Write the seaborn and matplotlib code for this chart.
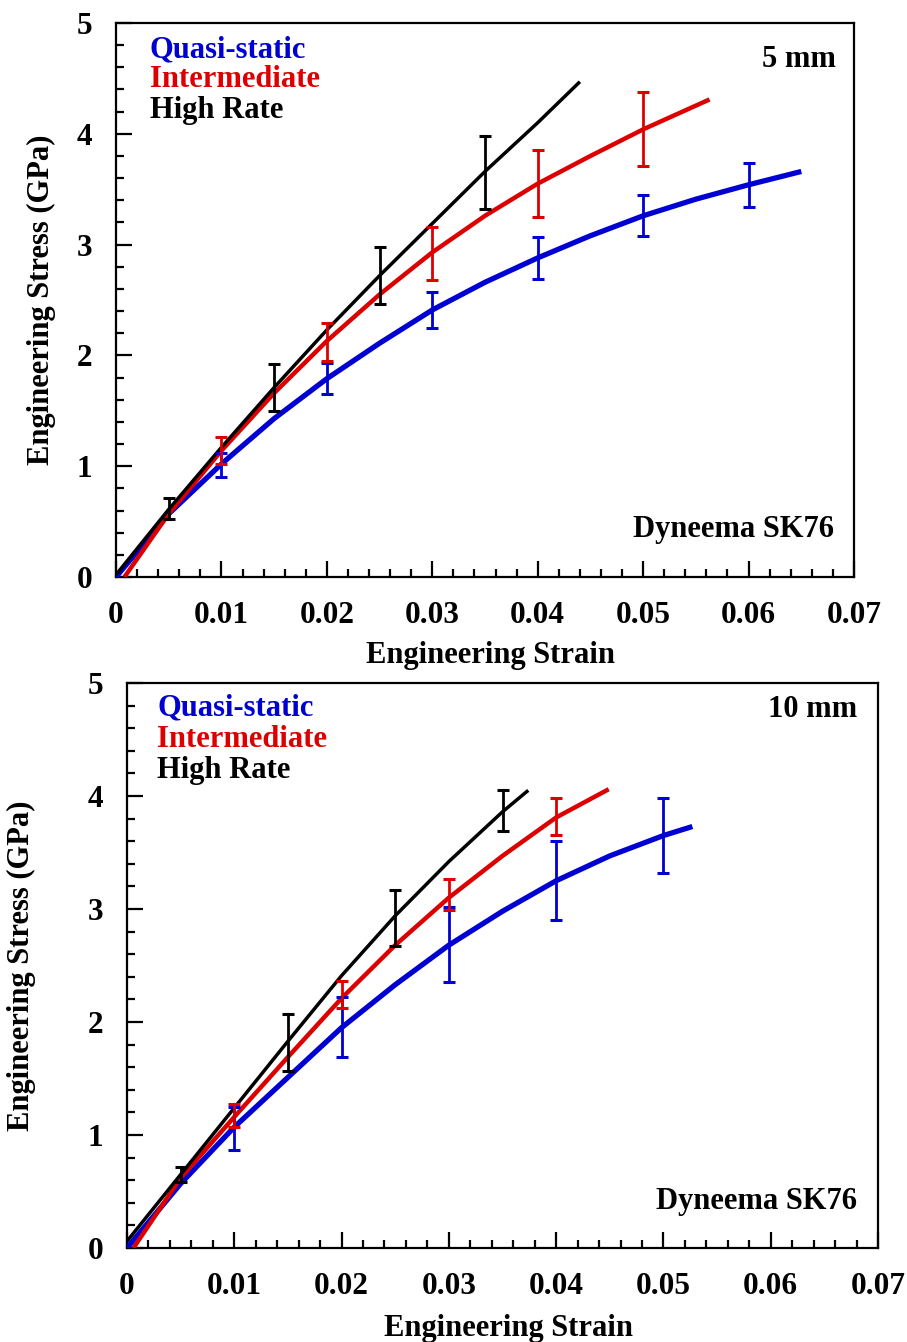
import numpy as np
import pandas as pd
import matplotlib
matplotlib.use("Agg")
import matplotlib.pyplot as plt
import seaborn as sns
from matplotlib.ticker import MultipleLocator

# ---- 5 mm gauge length: mean stress-strain curves ----
qs5_strain = [0, 0.005, 0.010, 0.015, 0.020, 0.025, 0.030, 0.035, 0.040, 0.045, 0.050, 0.055, 0.060, 0.065]
qs5_stress = [0, 0.57, 1.02, 1.43, 1.79, 2.11, 2.41, 2.66, 2.88, 3.08, 3.26, 3.41, 3.54, 3.66]
int5_strain = [0.0008, 0.005, 0.010, 0.015, 0.020, 0.025, 0.030, 0.035, 0.040, 0.045, 0.050, 0.0563]
int5_stress = [0, 0.57, 1.14, 1.66, 2.13, 2.55, 2.93, 3.26, 3.55, 3.80, 4.04, 4.31]
hr5_strain = [0, 0.005, 0.010, 0.015, 0.020, 0.025, 0.030, 0.035, 0.040, 0.044]
hr5_stress = [0.02, 0.61, 1.17, 1.71, 2.23, 2.72, 3.19, 3.66, 4.10, 4.47]

# 5 mm scatter (mean +/- deviation)
qs5_bar_x = [0.01, 0.02, 0.03, 0.04, 0.05, 0.06]
qs5_bar_y = [1.01, 1.79, 2.41, 2.88, 3.26, 3.54]
qs5_bar_err = [0.11, 0.14, 0.165, 0.19, 0.185, 0.20]
int5_bar_x = [0.01, 0.02, 0.03, 0.04, 0.05]
int5_bar_y = [1.14, 2.12, 2.92, 3.55, 4.04]
int5_bar_err = [0.12, 0.17, 0.24, 0.30, 0.335]
hr5_bar_x = [0.005, 0.015, 0.025, 0.035]
hr5_bar_y = [0.615, 1.71, 2.72, 3.65]
hr5_bar_err = [0.095, 0.215, 0.255, 0.33]

# ---- 10 mm gauge length ----
qs10_strain = [0, 0.005, 0.010, 0.015, 0.020, 0.025, 0.030, 0.035, 0.040, 0.045, 0.050, 0.0527]
qs10_stress = [0, 0.57, 1.07, 1.51, 1.95, 2.33, 2.68, 2.98, 3.25, 3.47, 3.65, 3.73]
int10_strain = [0.0006, 0.005, 0.010, 0.015, 0.020, 0.025, 0.030, 0.035, 0.040, 0.0449]
int10_stress = [0, 0.62, 1.16, 1.69, 2.21, 2.68, 3.10, 3.47, 3.81, 4.06]
hr10_strain = [0, 0.005, 0.010, 0.015, 0.020, 0.025, 0.030, 0.035, 0.0374]
hr10_stress = [0.06, 0.65, 1.24, 1.83, 2.41, 2.94, 3.42, 3.86, 4.05]

qs10_bar_x = [0.01, 0.02, 0.03, 0.04, 0.05]
qs10_bar_y = [1.06, 1.955, 2.685, 3.25, 3.65]
qs10_bar_err = [0.19, 0.265, 0.335, 0.35, 0.33]
int10_bar_x = [0.01, 0.02, 0.03, 0.04]
int10_bar_y = [1.17, 2.24, 3.13, 3.82]
int10_bar_err = [0.10, 0.12, 0.135, 0.165]
hr10_bar_x = [0.005, 0.015, 0.025, 0.035]
hr10_bar_y = [0.65, 1.82, 2.92, 3.87]
hr10_bar_err = [0.07, 0.255, 0.245, 0.18]

rate_names = ["Quasi-static", "Intermediate", "High Rate"]
rate_colors = ["#0000d2", "#dc0000", "#000000"]
line_widths = [3.8, 3.2, 2.5]
x_ticks = [0, 0.01, 0.02, 0.03, 0.04, 0.05, 0.06, 0.07]
x_tick_labels = ["0", "0.01", "0.02", "0.03", "0.04", "0.05", "0.06", "0.07"]
y_ticks = [0, 1, 2, 3, 4, 5]

sns.set_theme(style="white")
plt.rcParams["font.family"] = ["Liberation Serif", "DejaVu Serif"]
plt.rcParams["font.weight"] = "bold"
for key in ["text.color", "axes.labelcolor", "xtick.color", "ytick.color", "axes.edgecolor"]:
    plt.rcParams[key] = "black"

fig = plt.figure(figsize=(9.07, 13.42), dpi=100)
ax_top = fig.add_axes([116 / 907, 1 - 577 / 1342, 738 / 907, 554 / 1342])
ax_bot = fig.add_axes([127 / 907, 1 - 1248 / 1342, 751 / 907, 565 / 1342])

panels = [
    dict(ax=ax_top, title="5 mm",
         curves=[(qs5_strain, qs5_stress), (int5_strain, int5_stress), (hr5_strain, hr5_stress)],
         bars=[(qs5_bar_x, qs5_bar_y, qs5_bar_err), (int5_bar_x, int5_bar_y, int5_bar_err),
               (hr5_bar_x, hr5_bar_y, hr5_bar_err)],
         legend_xy=(0.046, [0.937, 0.884, 0.829]), title_xy=(0.976, 0.921),
         mat_xy=(0.973, 0.072), ylabel_x=-0.081),
    dict(ax=ax_bot, title="10 mm",
         curves=[(qs10_strain, qs10_stress), (int10_strain, int10_stress), (hr10_strain, hr10_stress)],
         bars=[(qs10_bar_x, qs10_bar_y, qs10_bar_err), (int10_bar_x, int10_bar_y, int10_bar_err),
               (hr10_bar_x, hr10_bar_y, hr10_bar_err)],
         legend_xy=(0.040, [0.942, 0.887, 0.832]), title_xy=(0.972, 0.940),
         mat_xy=(0.972, 0.069), ylabel_x=-0.121),
]

for p in panels:
    ax = p["ax"]
    for (sx, sy), name, col, lw in zip(p["curves"], rate_names, rate_colors, line_widths):
        df = pd.DataFrame({"strain": sx, "stress": sy})
        sns.lineplot(data=df, x="strain", y="stress", ax=ax, color=col, lw=lw,
                     sort=False, estimator=None, solid_capstyle="butt",
                     solid_joinstyle="round", zorder=3)
    for (bx, by, be), col in zip(p["bars"], rate_colors):
        ax.errorbar(bx, by, yerr=be, fmt="none", ecolor=col, elinewidth=2.0,
                    capsize=4.5, capthick=2.2, zorder=4)

    ax.set_xlim(0, 0.07)
    ax.set_ylim(0, 5)
    ax.set_xticks(x_ticks)
    ax.set_xticklabels(x_tick_labels)
    ax.set_yticks(y_ticks)
    ax.xaxis.set_minor_locator(MultipleLocator(0.002))
    ax.yaxis.set_minor_locator(MultipleLocator(0.2))
    ax.tick_params(which="both", direction="in", top=False, right=False,
                   bottom=True, left=True, color="black", width=1.6)
    ax.tick_params(which="major", length=11.5, labelsize=22.5, labelcolor="black")
    ax.tick_params(axis="x", which="major", pad=17)
    ax.tick_params(axis="y", which="major", pad=17)
    ax.tick_params(which="minor", length=5.8)
    for lab in ax.get_xticklabels() + ax.get_yticklabels():
        lab.set_fontweight("bold")
    for sp in ax.spines.values():
        sp.set_visible(True)
        sp.set_color("black")
        sp.set_linewidth(1.6)

    ax.set_xlabel("Engineering Strain", fontsize=22, fontweight="bold", color="black")
    ax.set_ylabel("Engineering Stress (GPa)", fontsize=22, fontweight="bold", color="black")
    ax.xaxis.set_label_coords(0.508, -0.116)
    ax.yaxis.set_label_coords(p["ylabel_x"], 0.5)

    lx, lys = p["legend_xy"]
    for name, col, ly in zip(rate_names, rate_colors, lys):
        ax.text(lx, ly, name, color=col, fontsize=22, fontweight="bold",
                transform=ax.transAxes, ha="left", va="baseline")
    ax.text(*p["title_xy"], p["title"], fontsize=22, fontweight="bold", color="black",
            transform=ax.transAxes, ha="right", va="baseline")
    ax.text(*p["mat_xy"], "Dyneema SK76", fontsize=22, fontweight="bold", color="black",
            transform=ax.transAxes, ha="right", va="baseline")

fig.savefig("out.png", dpi=100, facecolor="white")
